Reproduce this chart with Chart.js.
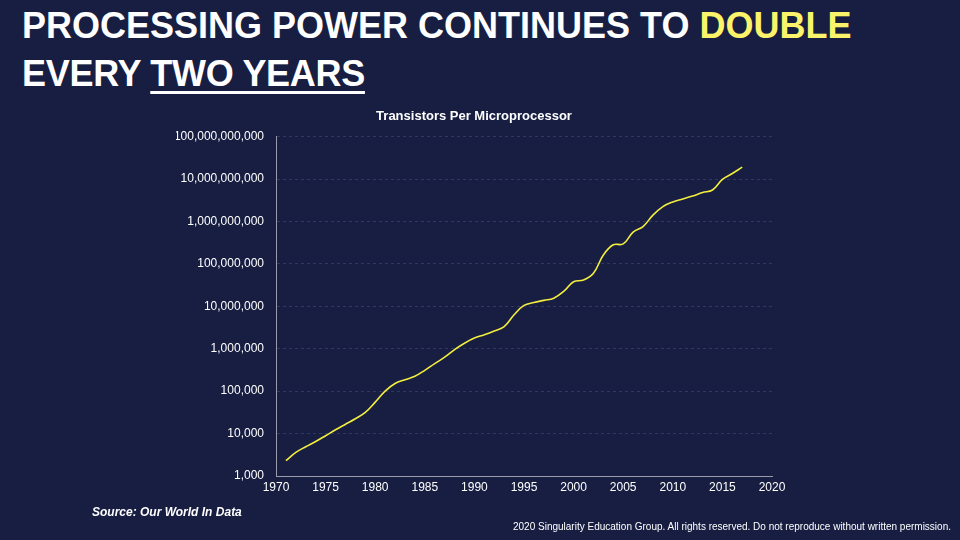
<!DOCTYPE html>
<html>
<head>
<meta charset="utf-8">
<script src="https://cdn.jsdelivr.net/npm/chart.js@4.4.1/dist/chart.umd.min.js"></script>
<style>
  html, body { margin: 0; padding: 0; }
  body {
    width: 960px; height: 540px; overflow: hidden; position: relative;
    background: #171e42; font-family: "Liberation Sans", Arial, sans-serif; color: #fff;
  }
  .headline {
    position: absolute; left: 22px; margin: 0; font-weight: bold; font-size: 36px;
    line-height: 1; white-space: nowrap;
  }
  #line1 { top: 8px; }
  #line2 { top: 56px; letter-spacing: -0.3px; }
  .hl { color: #fbf46a; }
  .ul { text-decoration: underline; text-decoration-thickness: 3px; text-underline-offset: 5px; }
  #chartBox { position: absolute; left: 0; top: 0; width: 960px; height: 540px; }
  #source {
    position: absolute; left: 92px; top: 505px; font-size: 12px; font-weight: bold; font-style: italic;
  }
  #copy {
    position: absolute; right: 9px; top: 521px; font-size: 10px; color: #fff;
  }
</style>
</head>
<body>
<div class="headline" id="line1">PROCESSING POWER CONTINUES TO <span class="hl">DOUBLE</span></div>
<div class="headline" id="line2">EVERY <span class="ul">TWO YEARS</span></div>
<div id="chartBox"><canvas id="chart" width="960" height="540"></canvas></div>
<div id="source">Source: Our World In Data</div>
<div id="copy">2020 Singularity Education Group. All rights reserved. Do not reproduce without written permission.</div>

<script>
/* ----------- Data ----------- */
const years = [1971, 1972, 1973, 1974, 1975, 1976, 1977, 1978, 1979, 1980,
               1981, 1982, 1983, 1984, 1985, 1986, 1987, 1988, 1989, 1990,
               1991, 1992, 1993, 1994, 1995, 1996, 1997, 1998, 1999, 2000,
               2001, 2002, 2003, 2004, 2005, 2006, 2007, 2008, 2009, 2010,
               2011, 2012, 2013, 2014, 2015, 2016, 2017];
const transistors = [2300, 3600, 4900, 6500, 8900, 12300, 16600, 22400, 31600, 55000,
                     100000, 151000, 186000, 224000, 309000, 447000, 631000, 955000, 1350000, 1780000,
                     2140000, 2630000, 3310000, 6310000, 10500000, 12300000, 13800000, 15500000, 22400000, 38000000,
                     41700000, 60300000, 162000000, 282000000, 295000000, 562000000, 759000000, 1410000000, 2240000000, 2880000000,
                     3390000000, 3980000000, 4790000000, 5500000000, 9800000000, 13500000000, 19000000000];
const yTickValues = [1e3, 1e4, 1e5, 1e6, 1e7, 1e8, 1e9, 1e10, 1e11];
const xTickValues = [1970, 1975, 1980, 1985, 1990, 1995, 2000, 2005, 2010, 2015, 2020];

const chartTitle = 'Transistors Per Microprocessor';
const tickFont = { family: '"Liberation Sans", Arial, sans-serif', size: 12 };

/* ----------- Chart ----------- */
const ctx = document.getElementById('chart').getContext('2d');
new Chart(ctx, {
    type: 'line',
    data: {
        datasets: [{
            label: chartTitle,
            data: years.map((y, i) => ({ x: y, y: transistors[i] })),
            borderColor: '#f3ee3e',
            borderWidth: 1.6,
            pointRadius: 0,
            tension: 0.4,
            fill: false
        }]
    },
    options: {
        responsive: false,
        animation: false,
        layout: { padding: { left: 176, right: 188, top: 100, bottom: 34 } },
        plugins: {
            legend: { display: false },
            tooltip: { enabled: false },
            title: {
                display: true,
                text: chartTitle,
                color: '#ffffff',
                font: { family: '"Liberation Sans", Arial, sans-serif', size: 13, weight: 'bold' },
                padding: { top: 9, bottom: 12 }
            }
        },
        scales: {
            x: {
                type: 'linear',
                min: 1970, max: 2020,
                afterBuildTicks: s => { s.ticks = xTickValues.map(v => ({ value: v })); },
                afterFit: s => { s.height = 30; },
                ticks: { color: '#ffffff', font: tickFont, padding: 4, maxRotation: 0,
                         callback: v => String(v) },
                grid: { display: false, drawTicks: false },
                border: { display: true, color: '#9a9cab', width: 1 }
            },
            y: {
                type: 'logarithmic',
                min: 1e3, max: 1e11,
                afterBuildTicks: s => { s.ticks = yTickValues.map(v => ({ value: v })); },
                afterFit: s => { s.width = 100; },
                ticks: { color: '#ffffff', font: tickFont, padding: 12,
                         callback: v => Number(v).toLocaleString('en-US') },
                grid: { color: '#2e3863', lineWidth: 1, drawTicks: false },
                border: { display: true, color: '#9a9cab', width: 1, dash: [3, 3] }
            }
        }
    }
});
</script>
</body>
</html>
